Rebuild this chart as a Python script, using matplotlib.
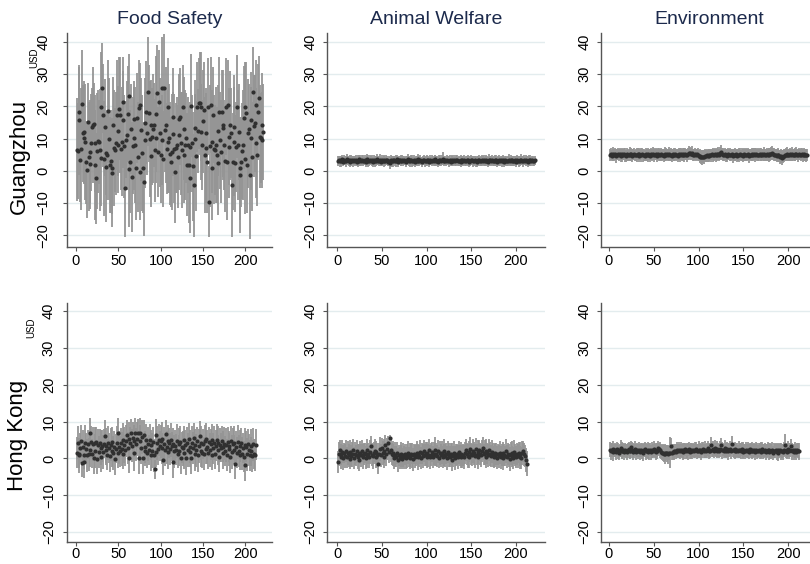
import numpy as np
import matplotlib
matplotlib.use("Agg")
import matplotlib.pyplot as plt

plt.rcParams['font.family'] = ['Liberation Sans', 'DejaVu Sans']

# ---- Guangzhou ----
gz_food = [
    6.5, 6.2, 18.1, 15.8, 3.3, 6.8, 20.6, 11.6, 10.1, 12.0, 8.8, 2.6, 0.2, 15.2, 4.4, 2.2, 5.9, 8.7, 13.7, 14.1,
    14.4, 1.8, 8.5, -2.4, 6.0, 9.2, 8.9, 6.4, 4.1, 19.9, 25.6, 17.3, 3.8, 13.5, 5.4, 1.2, 4.9, 18.5, 9.8, 1.8,
    3.0, 0.7, -0.6, 14.2, 7.1, 6.4, 8.5, 17.3, 12.3, 8.0, 19.3, 17.3, 6.9, 9.0, 15.9, 21.4, 7.6, -5.5, 9.7, 11.0,
    17.6, 0.4, 23.2, 2.8, 12.9, -1.9, 7.8, 10.1, 16.0, 8.0, 0.7, 16.3, 4.3, 19.4, -0.3, 20.4, 12.7, 5.4, 1.0, -3.4,
    9.5, 14.7, 18.2, 11.6, 24.6, 17.8, 9.9, 14.2, 4.7, 10.6, 13.1, 14.2, 6.4, 10.1, 17.5, 24.1, 5.9, 21.4, 11.8, 4.9,
    9.6, 25.6, 3.7, 25.6, 12.6, 14.2, 6.9, 9.0, 19.9, 10.1, 5.3, 2.8, 5.9, 16.8, 11.4, 6.9, -0.3, 7.2, 8.0, 4.4,
    11.1, 16.1, 16.8, 8.5, 6.4, 19.9, 13.0, 4.9, 8.0, 10.2, 1.8, 8.0, 1.8, -2.4, 7.3, 20.2, 8.5, 1.4, -4.5, 9.8,
    13.2, 4.6, 19.9, 12.4, 20.9, 20.9, 12.1, 19.9, 8.0, 15.3, 18.9, 4.9, 7.0, 11.8, 2.8, 19.9, -9.6, 7.6, 20.4, 9.0,
    0.7, 17.3, 6.6, 6.4, 8.0, 4.9, 2.3, 12.5, 18.3, 9.4, 5.9, 18.3, 13.2, 14.2, 8.0, 3.1, 19.9, 2.8, 20.4, 7.5,
    10.6, 14.1, 11.6, -4.5, 2.8, 9.0, 13.6, 2.3, 7.4, 19.9, 8.0, 12.1, 0.7, -1.3, 2.8, 6.1, 8.0, 16.4, 19.9, 3.7,
    17.8, 1.8, 11.6, 13.1, -1.3, 15.8, 10.1, 4.4, 24.6, 13.9, 14.7, 8.6, 20.4, 4.9, 18.2, 22.5, 10.6, 10.1, 9.6, 14.3,
    12.0]
gz_food_ci = [
    16, 15, 14, 17, 13, 19, 17, 15, 14, 16, 18, 13, 15, 12, 17, 14, 16, 15, 12, 18,
    13, 17, 15, 14, 18, 16, 13, 19, 15, 17, 14, 16, 18, 15, 13, 17, 14, 16, 19, 15,
    16, 14, 17, 15, 18, 13, 16, 17, 14, 15, 16, 18, 13, 17, 15, 14, 16, 15, 12, 17,
    15, 18, 13, 16, 14, 17, 15, 16, 12, 18, 16, 14, 17, 15, 15, 13, 16, 18, 14, 17,
    15, 14, 16, 13, 17, 15, 18, 14, 16, 15, 17, 13, 16, 14, 18, 15, 14, 16, 17, 15,
    14, 16, 15, 17, 13, 18, 14, 16, 15, 17, 16, 14, 18, 15, 13, 17, 16, 14, 15, 16,
    17, 14, 15, 16, 18, 13, 16, 15, 17, 14, 16, 15, 18, 17, 14, 16, 15, 17, 16, 14,
    15, 17, 14, 13, 14, 16, 15, 17, 14, 16, 15, 18, 17, 14, 16, 15, 11, 19, 15, 16,
    16, 15, 17, 14, 18, 15, 16, 14, 17, 15, 16, 13, 15, 17, 14, 16, 15, 18, 14, 16,
    15, 17, 14, 16, 15, 17, 16, 15, 14, 16, 17, 15, 16, 18, 14, 15, 17, 16, 14, 17,
    16, 15, 17, 14, 20, 15, 16, 17, 14, 16, 15, 17, 14, 16, 15, 13, 16, 14, 15, 16,
    15]

gz_animal = [
    3.1, 3.4, 2.9, 3.2, 3.0, 3.5, 2.8, 3.3, 3.1, 2.9, 3.6, 3.2, 3.0, 2.7, 3.3, 3.1, 3.4, 2.9, 3.2, 3.0,
    3.3, 2.8, 3.1, 3.5, 3.0, 3.2, 2.9, 3.4, 3.1, 3.0, 3.3, 2.7, 3.2, 3.6, 3.0, 2.9, 3.3, 3.1, 3.2, 2.8,
    3.4, 3.0, 3.2, 2.9, 3.5, 3.1, 3.0, 3.3, 2.8, 3.2, 3.1, 3.4, 2.9, 3.0, 3.3, 3.2, 2.7, 3.1, 2.4, 3.3,
    3.0, 3.2, 2.9, 3.4, 3.1, 3.0, 3.5, 2.8, 3.2, 3.3, 3.1, 2.9, 3.4, 3.0, 3.2, 3.1, 2.8, 3.3, 3.6, 3.0,
    3.2, 2.9, 3.4, 3.1, 3.0, 3.3, 2.8, 3.2, 3.1, 3.5, 2.9, 3.0, 3.3, 3.1, 2.7, 3.2, 3.4, 3.0, 2.9, 3.3,
    3.1, 3.2, 2.8, 3.4, 3.0, 3.1, 3.3, 2.9, 3.2, 3.5, 3.0, 3.1, 2.8, 3.3, 3.2, 2.9, 3.4, 3.7, 3.1, 3.0,
    3.2, 2.9, 3.3, 3.1, 3.0, 3.4, 2.8, 3.2, 3.1, 2.9, 3.3, 3.0, 3.2, 3.4, 2.9, 3.1, 3.0, 3.3, 2.8, 3.2,
    3.1, 3.4, 2.9, 3.0, 3.2, 3.3, 2.8, 3.1, 3.0, 3.4, 3.2, 2.9, 3.1, 3.3, 3.0, 2.8, 3.2, 3.1, 3.4, 2.9,
    3.0, 3.3, 3.1, 3.2, 2.9, 3.4, 3.0, 3.1, 2.8, 3.3, 3.2, 3.0, 3.4, 2.9, 3.1, 3.2, 3.0, 3.3, 2.8, 3.1,
    3.2, 2.9, 3.4, 3.0, 3.1, 3.3, 2.7, 3.2, 3.0, 2.9, 3.1, 3.4, 3.0, 3.2, 2.9, 3.3, 3.1, 3.0, 3.2, 2.8,
    3.3, 3.1, 2.9, 3.2, 3.0, 3.4, 3.1, 2.9, 3.3, 3.0, 3.2, 3.1, 2.8, 3.3, 3.0, 3.2, 2.9, 3.4, 3.1, 3.0,
    3.2]
gz_animal_ci = [
    1.5, 1.3, 1.6, 1.4, 1.7, 1.5, 1.2, 1.6, 1.4, 1.8, 1.5, 1.3, 1.6, 1.4, 1.5, 1.7, 1.3, 1.6, 1.4, 1.5,
    1.6, 1.4, 1.8, 1.3, 1.5, 1.6, 1.4, 1.5, 1.7, 1.3, 1.6, 1.5, 1.4, 1.6, 1.8, 1.3, 1.5, 1.4, 1.6, 1.5,
    1.4, 1.7, 1.5, 1.3, 1.6, 1.4, 1.5, 1.8, 1.4, 1.6, 1.3, 1.5, 1.7, 1.4, 1.6, 1.5, 1.3, 1.6, 2.0, 1.5,
    1.7, 1.4, 1.6, 1.3, 1.5, 1.8, 1.4, 1.6, 1.5, 1.3, 1.7, 1.5, 1.4, 1.6, 1.5, 1.3, 1.7, 1.4, 1.6, 1.5,
    1.4, 1.6, 1.5, 1.9, 1.4, 1.5, 1.6, 1.3, 1.5, 1.7, 1.4, 1.6, 1.5, 1.3, 1.6, 1.4, 1.5, 1.7, 1.3, 1.6,
    1.5, 1.4, 1.6, 1.5, 1.3, 1.7, 1.4, 1.5, 1.6, 1.3, 1.5, 1.4, 1.6, 1.5, 1.7, 1.4, 1.5, 2.0, 1.4, 1.6,
    1.5, 1.3, 1.6, 1.4, 1.7, 1.5, 1.3, 1.6, 1.4, 1.5, 1.6, 1.4, 1.8, 1.5, 1.3, 1.6, 1.4, 1.5, 1.7, 1.4,
    1.6, 1.5, 1.3, 1.6, 1.4, 1.7, 1.5, 1.4, 1.6, 1.5, 1.3, 1.6, 1.5, 1.4, 1.7, 1.5, 1.3, 1.6, 1.4, 1.5,
    1.5, 1.7, 1.4, 1.6, 1.3, 1.5, 1.6, 1.4, 1.5, 1.8, 1.4, 1.5, 1.6, 1.3, 1.5, 1.7, 1.4, 1.6, 1.5, 1.4,
    1.6, 1.5, 1.3, 1.7, 1.4, 1.6, 1.5, 1.3, 1.6, 1.4, 1.5, 1.7, 1.4, 1.6, 1.5, 1.3, 1.6, 1.5, 1.4, 1.7,
    1.5, 1.4, 1.6, 1.3, 1.5, 1.7, 1.4, 1.6, 1.5, 1.3, 1.6, 1.4, 1.7, 1.5, 1.4, 1.6, 1.5, 1.3, 1.6, 1.4,
    1.5]

gz_env = [
    4.9, 5.2, 4.7, 5.0, 5.3, 4.8, 5.1, 4.6, 5.0, 5.2, 4.9, 5.1, 4.7, 5.3, 4.8, 5.0, 5.2, 4.9, 4.6, 5.1,
    5.0, 4.8, 5.3, 4.9, 5.1, 4.7, 5.0, 5.2, 4.8, 5.0, 4.9, 5.2, 4.6, 5.1, 4.9, 5.0, 5.3, 4.8, 5.0, 4.7,
    5.1, 4.9, 5.2, 4.8, 5.0, 4.6, 5.1, 4.9, 5.3, 4.8, 5.0, 5.1, 4.7, 4.9, 5.2, 5.0, 4.8, 5.1, 4.9, 5.0,
    4.7, 5.2, 4.9, 5.0, 5.1, 4.8, 5.3, 4.9, 5.0, 4.7, 5.1, 5.0, 4.8, 5.2, 4.9, 5.0, 4.7, 5.1, 4.9, 5.2,
    4.8, 5.0, 5.1, 4.9, 5.3, 5.0, 4.8, 5.2, 5.4, 5.5, 5.2, 5.1, 5.5, 5.0, 4.8, 5.2, 4.9, 5.1, 5.0, 4.7,
    4.6, 4.4, 4.3, 4.2, 4.4, 4.3, 4.6, 4.5, 4.8, 4.6, 4.9, 4.7, 5.0, 4.8, 5.1, 4.9, 5.0, 5.2, 4.8, 5.1,
    4.9, 5.3, 5.0, 5.4, 5.7, 5.2, 5.0, 4.9, 5.1, 4.8, 5.0, 4.7, 5.2, 4.9, 5.0, 4.8, 5.1, 4.6, 4.9, 5.0,
    4.8, 5.1, 4.7, 5.0, 4.9, 5.2, 4.8, 5.0, 4.6, 4.9, 5.1, 4.8, 5.0, 4.9, 5.2, 4.7, 5.0, 4.9, 5.1, 4.8,
    5.0, 5.2, 4.9, 5.1, 4.8, 5.0, 4.9, 5.3, 5.0, 4.8, 5.1, 4.9, 5.2, 5.0, 4.8, 5.1, 5.0, 4.9, 5.2, 5.1,
    5.3, 5.5, 5.2, 5.0, 4.8, 4.9, 4.7, 4.9, 4.8, 4.5, 4.2, 4.6, 4.0, 4.4, 4.7, 4.9, 5.0, 4.9, 5.2, 4.8,
    5.0, 5.1, 4.9, 5.2, 4.8, 5.0, 5.1, 4.9, 5.3, 5.0, 4.8, 5.1, 4.9, 5.0, 5.2, 4.8, 4.9, 5.1, 5.0, 4.8,
    5.0]
gz_env_ci = [
    1.8, 2.0, 1.7, 1.9, 2.1, 1.8, 1.9, 2.2, 1.7, 2.0, 1.8, 1.9, 2.1, 1.7, 2.0, 1.8, 1.9, 2.2, 1.8, 2.0,
    1.9, 1.7, 2.0, 1.8, 2.1, 1.9, 1.8, 2.0, 1.7, 1.9, 2.1, 1.8, 2.0, 1.9, 1.7, 2.2, 1.8, 2.0, 1.9, 1.8,
    2.0, 1.8, 1.9, 2.1, 1.7, 2.0, 1.9, 1.8, 2.0, 2.2, 1.8, 1.9, 2.0, 1.7, 1.9, 2.1, 1.8, 2.0, 1.9, 1.8,
    1.9, 2.1, 1.8, 2.0, 1.7, 1.9, 2.2, 1.8, 2.0, 1.9, 1.8, 2.1, 1.7, 1.9, 2.0, 1.8, 2.0, 1.9, 2.1, 1.8,
    1.9, 2.0, 1.8, 2.1, 1.9, 1.7, 2.0, 1.8, 2.2, 1.9, 2.0, 1.8, 2.1, 1.9, 1.8, 2.0, 1.9, 1.7, 2.1, 1.8,
    2.0, 1.9, 2.1, 2.3, 1.9, 2.2, 2.0, 1.9, 2.1, 1.8, 2.0, 1.9, 1.7, 2.0, 1.8, 2.1, 1.9, 1.8, 2.0, 1.9,
    1.8, 2.0, 1.9, 2.1, 2.4, 1.9, 2.0, 1.8, 1.9, 2.1, 1.8, 2.0, 1.9, 1.7, 2.0, 1.9, 1.8, 2.1, 1.9, 2.0,
    1.9, 1.8, 2.0, 1.9, 2.1, 1.8, 1.7, 2.0, 1.9, 1.8, 2.1, 1.9, 2.0, 1.8, 1.9, 2.2, 1.8, 2.0, 1.9, 1.7,
    2.0, 1.8, 2.1, 1.9, 1.8, 2.0, 1.9, 1.7, 2.1, 1.9, 1.8, 2.0, 2.2, 1.9, 1.8, 2.0, 1.9, 2.1, 1.8, 2.0,
    2.1, 2.3, 1.9, 2.0, 1.8, 2.0, 1.9, 2.1, 2.0, 1.9, 2.2, 2.1, 2.3, 2.0, 1.9, 1.8, 2.0, 1.9, 2.1, 1.8,
    1.9, 2.0, 1.8, 2.1, 1.9, 1.8, 2.0, 1.9, 2.1, 1.8, 2.0, 1.9, 1.7, 2.0, 1.9, 2.1, 1.8, 2.0, 1.9, 2.0,
    1.9]

# ---- Hong Kong ----
hk_food = [
    1.5, 4.3, 1.2, 0.8, 2.9, 4.6, -1.2, 3.1, -0.9, 1.0, 4.2, 2.6, 0.9, 3.8, 1.1, 6.8, 2.4, 4.4, 1.3, 3.9,
    0.2, 4.3, 2.1, 4.4, -0.2, 3.6, 1.8, 4.1, 2.9, 0.4, 3.3, 1.7, 4.0, 6.1, 2.2, 3.5, 1.0, 4.2, 2.8, 0.6,
    3.7, 2.0, 4.5, 1.4, 3.2, -0.1, 2.6, 4.1, 1.6, 6.8, 3.0, 1.9, 4.3, 2.5, 5.1, 1.2, 3.6, 2.2, 4.8, 6.4,
    2.9, 5.3, 0.1, 4.1, 6.8, 3.4, 5.6, 1.4, 4.7, 6.9, 3.8, 5.2, 6.8, 0.1, 4.6, 6.8, 2.7, 5.9, 0.1, 6.3,
    3.1, 2.0, 4.9, 1.6, 3.8, 2.3, 5.0, 1.0, 3.6, 2.1, 4.4, 0.9, -3.0, 1.8, 6.4, 4.1, 2.5, 5.0, 3.4, 4.6,
    2.8, 5.4, -0.4, 3.9, 2.2, 6.5, 3.0, 4.8, 1.7, 4.2, 2.6, 5.1, 3.3, -0.9, 4.0, 1.9, 3.5, 2.4, 4.7, 1.3,
    3.8, 2.1, 4.4, 0.0, 3.0, 2.7, 4.9, 1.5, 3.6, 0.1, 4.3, 2.4, 5.3, 1.8, 3.2, 0.0, 4.1, 2.9, 5.5, 1.2,
    3.7, 2.2, 4.6, 0.8, 3.4, 6.0, 2.0, 4.2, 1.6, 3.9, 1.3, 4.8, 2.6, 5.2, 3.0, 1.4, 4.4, 2.3, 3.8, 0.9,
    5.0, 2.7, 4.1, 1.1, 3.5, 4.9, 2.2, 4.3, 0.4, 3.6, 2.9, 4.6, 1.5, 3.2, 4.0, 2.1, 3.7, 1.0, 4.4, 2.5,
    3.3, 0.5, 4.7, 1.8, 3.9, 2.4, 4.2, -1.4, 3.1, 1.6, 4.5, 2.0, 0.9, 3.4, 4.1, 1.3, 2.8, 0.5, 3.6, -1.8,
    3.2, 1.1, 4.0, 2.3, 0.8, 3.5, 1.9, 0.6, 3.8, 1.2, 0.9, 3.7]
hk_food_ci = [
    4.2, 4.5, 3.9, 4.7, 4.1, 4.4, 3.8, 4.6, 4.3, 4.0, 4.8, 4.2, 4.5, 3.9, 4.4, 4.1, 4.7, 4.3, 4.0, 4.6,
    4.3, 4.1, 4.6, 4.2, 3.9, 4.5, 4.4, 4.0, 4.8, 4.2, 4.3, 4.6, 3.9, 4.4, 4.1, 4.7, 4.2, 4.5, 4.0, 4.3,
    4.5, 4.2, 4.0, 4.6, 4.3, 4.4, 3.9, 4.7, 4.1, 4.2, 4.5, 4.3, 4.0, 4.6, 4.4, 4.1, 4.8, 4.2, 4.3, 4.0,
    4.4, 4.6, 4.1, 4.3, 4.0, 4.5, 4.2, 4.7, 4.3, 4.1, 4.4, 4.6, 4.0, 4.2, 4.5, 4.3, 4.1, 4.6, 4.4, 4.2,
    4.3, 4.0, 4.5, 4.2, 4.6, 4.1, 4.4, 4.3, 4.0, 4.7, 4.2, 4.5, 2.6, 4.1, 4.3, 4.6, 4.2, 4.4, 4.0, 4.5,
    4.2, 4.4, 4.1, 4.6, 4.3, 4.0, 4.5, 4.2, 4.7, 4.1, 4.3, 4.6, 4.0, 4.4, 4.2, 4.5, 4.1, 4.3, 4.6, 4.0,
    4.4, 4.2, 4.5, 4.1, 4.3, 4.7, 4.0, 4.4, 4.2, 4.5, 4.1, 4.6, 4.3, 4.0, 4.4, 4.2, 4.6, 4.3, 4.1, 4.5,
    4.2, 4.5, 4.0, 4.4, 4.6, 4.1, 4.3, 4.7, 4.2, 4.0, 4.5, 4.3, 4.1, 4.4, 4.6, 4.2, 4.0, 4.5, 4.3, 4.1,
    4.4, 4.2, 4.6, 4.0, 4.3, 4.5, 4.1, 4.4, 4.2, 4.7, 4.0, 4.3, 4.5, 4.2, 4.4, 4.1, 4.6, 4.3, 4.0, 4.5,
    4.2, 4.4, 4.1, 4.6, 4.3, 4.0, 4.5, 4.2, 4.4, 4.1, 4.6, 4.3, 4.0, 4.4, 4.2, 4.5, 4.1, 4.3, 4.6, 4.2,
    4.3, 4.5, 4.1, 4.4, 4.2, 4.6, 4.0, 4.3, 4.5, 4.1, 4.4, 4.2]

hk_animal = [
    -0.9, 1.2, 2.3, 0.4, 1.0, 1.8, 0.2, 1.5, 0.7, 2.1, 0.3, 1.4, 0.9, -0.2, 1.7, 0.6, 1.1, 2.4, 0.1, 1.3,
    0.8, 1.9, 0.5, 1.2, -0.3, 1.6, 0.9, 2.0, 0.4, 1.1, 1.5, 0.2, 2.2, 0.7, 1.3, 0.5, 1.8, 3.4, 1.0, 0.6,
    1.4, 2.1, 0.3, 1.7, 0.9, -1.4, 1.2, 2.5, 0.8, 2.7, 1.5, 0.4, 2.0, 3.6, 1.1, 2.6, 4.3, 1.7, 5.6, 2.2,
    1.3, 0.9, 1.6, 0.2, 1.0, 0.5, 1.4, -0.4, 0.8, 0.1, 1.2, 0.6, -0.1, 0.9, 0.3, 1.1, 0.0, 0.7, 1.5, 0.4,
    1.0, 0.2, 1.3, 0.8, -0.2, 1.2, 0.5, 0.9, 1.6, 0.3, 1.1, 0.7, 1.8, 0.1, 1.4, 0.6, 2.0, 0.9, 1.2, 0.4,
    1.5, 0.8, 2.2, 0.3, 1.0, 1.7, 0.5, 1.3, 2.4, 0.9, 1.1, 0.6, 1.9, 0.2, 1.4, 0.8, 1.6, 0.4, 2.1, 1.0,
    0.7, 1.3, 0.1, 1.8, 0.9, 0.5, 1.2, -0.3, 1.0, 0.6, 1.5, 0.2, 0.9, 1.1, 0.4, 1.7, 0.8, 0.3, 1.2, 0.6,
    1.0, 0.4, 1.5, 2.3, 1.1, 0.7, 1.8, 0.5, 2.6, 1.2, 0.9, 2.0, 1.4, 0.6, 2.5, 1.0, 1.7, 0.3, 2.2, 1.3,
    0.8, 1.9, 2.8, 1.1, 1.6, 0.5, 2.1, 1.4, 0.9, 2.4, 1.2, 0.7, 1.8, 1.0, 0.4, 1.5, 0.8, 1.3, 0.2, 1.1,
    0.6, 1.6, 0.3, 0.9, 1.4, 0.1, 1.0, 0.7, 2.0, 0.5, 1.2, 0.8, -0.2, 1.3, 0.6, 1.5, 0.2, 1.8, 0.9, 0.4,
    1.1, 0.7, 1.6, 0.3, 1.2, 0.0, 1.4, 1.9, 1.1, 0.6, -0.5, -1.4]
hk_animal_ci = [
    3.0, 3.2, 2.8, 3.3, 2.9, 3.1, 3.4, 2.8, 3.2, 3.0, 2.9, 3.3, 3.1, 2.8, 3.2, 3.0, 3.4, 2.9, 3.1, 3.2,
    2.9, 3.1, 3.3, 2.8, 3.0, 3.2, 3.1, 2.9, 3.4, 3.0, 2.8, 3.2, 3.1, 3.3, 2.9, 3.0, 3.2, 2.8, 3.1, 3.4,
    3.0, 3.2, 2.9, 3.1, 3.3, 2.8, 3.0, 3.2, 3.1, 2.9, 3.3, 3.0, 3.2, 2.8, 3.1, 3.0, 1.8, 2.9, 0.8, 3.3,
    3.0, 2.9, 3.2, 3.1, 3.4, 2.8, 3.0, 3.2, 2.9, 3.1, 3.3, 3.0, 2.8, 3.2, 3.1, 2.9, 3.0, 3.3, 3.1, 2.8,
    3.2, 3.0, 2.9, 3.3, 3.1, 2.8, 3.2, 3.0, 3.1, 3.4, 2.9, 3.0, 3.2, 3.1, 2.8, 3.3, 3.0, 2.9, 3.2, 3.1,
    2.9, 3.2, 3.0, 3.3, 3.1, 2.8, 3.0, 3.2, 3.4, 2.9, 3.1, 3.0, 3.2, 2.8, 3.3, 3.0, 3.1, 2.9, 3.2, 3.0,
    3.1, 2.9, 3.2, 3.0, 3.3, 2.8, 3.1, 3.0, 3.2, 2.9, 3.1, 3.3, 3.0, 2.8, 3.2, 3.1, 2.9, 3.0, 3.3, 3.1,
    3.0, 3.2, 2.9, 3.1, 3.0, 3.3, 2.8, 3.2, 3.1, 3.0, 2.9, 3.2, 3.1, 3.3, 3.0, 2.8, 3.2, 3.1, 2.9, 3.0,
    3.2, 3.0, 3.1, 2.9, 3.3, 3.0, 3.2, 2.8, 3.1, 3.0, 3.2, 2.9, 3.1, 3.3, 3.0, 2.8, 3.2, 3.0, 3.1, 2.9,
    3.1, 3.0, 3.2, 2.9, 3.1, 3.3, 3.0, 2.8, 3.2, 3.1, 2.9, 3.0, 3.2, 3.1, 2.8, 3.3, 3.0, 3.2, 2.9, 3.1,
    3.0, 3.2, 2.9, 3.1, 3.3, 3.0, 3.2, 2.8, 3.1, 3.0, 3.2, 3.5]

hk_env = [
    2.4, 1.9, 2.2, 2.6, 1.7, 2.1, 2.3, 1.8, 2.5, 2.0, 1.6, 2.2, 2.7, 1.9, 2.1, 2.4, 1.8, 2.3, 2.0, 1.7,
    2.2, 2.5, 1.9, 2.1, 3.0, 2.3, 1.8, 2.0, 2.6, 1.7, 2.2, 1.9, 2.4, 2.1, 1.8, 2.3, 2.0, 1.6, 2.2, 2.5,
    1.9, 2.1, 2.3, 1.8, 2.0, 2.4, 1.7, 2.2, 1.9, 2.6, 2.1, 1.8, 2.3, 2.0, 2.8, 2.5, 2.2, 1.8, 1.6, 1.5,
    1.3, 1.5, 1.2, 1.6, 1.4, 1.1, 1.5, 1.6, 3.4, 1.4, 1.8, 1.9, 1.7, 2.1, 1.8, 2.3, 2.0, 2.2, 1.9, 2.4,
    2.1, 1.8, 2.3, 2.0, 2.5, 1.9, 2.2, 2.0, 2.6, 1.8, 2.1, 2.4, 1.9, 2.3, 2.0, 2.2, 2.5, 1.9, 2.1, 2.4,
    2.0, 2.3, 1.8, 2.2, 2.6, 2.0, 2.4, 1.9, 2.2, 2.7, 2.1, 2.4, 2.0, 3.6, 2.3, 2.5, 2.1, 2.8, 2.2, 2.0,
    2.6, 2.3, 1.9, 2.5, 3.6, 2.2, 2.4, 2.0, 2.7, 2.3, 2.1, 2.5, 1.9, 2.3, 2.6, 2.0, 3.9, 2.4, 2.2, 2.0,
    2.5, 2.1, 2.3, 1.9, 2.4, 2.2, 2.0, 2.6, 1.8, 2.3, 2.1, 1.9, 2.4, 2.0, 2.2, 1.8, 2.5, 2.1, 1.9, 2.3,
    2.0, 2.2, 1.7, 2.4, 2.1, 1.9, 2.3, 2.0, 1.8, 2.2, 2.5, 1.9, 2.1, 2.3, 1.8, 2.0, 2.4, 1.7, 2.2, 2.0,
    1.9, 2.3, 1.6, 2.1, 2.0, 2.4, 1.8, 2.2, 1.5, 2.0, 2.3, 1.9, 2.1, 1.7, 2.4, 3.6, 1.9, 2.2, 1.8, 2.5,
    2.0, 2.3, 3.4, 1.9, 2.2, 1.7, 2.4, 2.0, 1.8, 2.3, 2.1, 1.9]
hk_env_ci = [
    2.0, 2.2, 1.9, 2.1, 2.3, 1.8, 2.0, 2.2, 1.9, 2.1, 2.0, 1.8, 2.2, 2.0, 2.3, 1.9, 2.1, 2.0, 1.8, 2.2,
    2.1, 1.9, 2.0, 2.2, 1.8, 2.1, 2.3, 1.9, 2.0, 2.2, 1.9, 2.1, 2.0, 1.8, 2.2, 2.0, 2.1, 2.3, 1.9, 2.0,
    2.2, 1.9, 2.1, 2.0, 2.3, 1.8, 2.0, 2.2, 1.9, 2.1, 2.0, 2.2, 1.9, 2.1, 2.0, 1.8, 2.2, 2.0, 2.1, 2.3,
    2.4, 2.2, 2.6, 2.1, 2.3, 2.5, 2.0, 4.2, 2.2, 1.9, 2.1, 2.0, 2.2, 1.8, 2.0, 2.1, 1.9, 2.2, 2.0, 2.1,
    1.9, 2.1, 2.0, 2.2, 1.8, 2.0, 2.1, 2.3, 1.9, 2.0, 2.2, 1.9, 2.1, 2.0, 1.8, 2.2, 2.0, 2.1, 1.9, 2.2,
    2.0, 1.9, 2.1, 2.2, 1.8, 2.0, 2.3, 1.9, 2.1, 2.0, 2.2, 1.9, 2.0, 2.1, 1.8, 2.2, 2.0, 2.1, 1.9, 2.0,
    2.2, 2.0, 1.9, 2.1, 2.0, 2.3, 1.8, 2.0, 2.2, 1.9, 2.1, 2.0, 2.2, 1.9, 2.0, 2.1, 2.3, 1.9, 2.0, 2.2,
    1.9, 2.1, 2.0, 1.8, 2.2, 2.0, 2.1, 1.9, 2.0, 2.2, 1.8, 2.1, 2.0, 1.9, 2.2, 2.0, 1.8, 2.1, 2.0, 2.2,
    2.0, 1.9, 2.1, 2.0, 2.2, 1.8, 2.0, 2.1, 1.9, 2.2, 2.0, 2.1, 1.9, 2.0, 2.2, 1.8, 2.1, 2.0, 1.9, 2.1,
    2.0, 2.2, 1.9, 2.1, 2.0, 1.8, 2.2, 2.0, 2.1, 1.9, 2.0, 2.2, 1.9, 2.1, 2.0, 3.0, 1.9, 2.1, 2.0, 2.2,
    2.1, 1.9, 2.0, 2.2, 1.8, 2.1, 2.0, 1.9, 2.2, 2.0, 2.1, 2.3]

col_titles = ["Food Safety", "Animal Welfare", "Environment"]
row_titles = ["Guangzhou", "Hong Kong"]
panels = [[(gz_food, gz_food_ci), (gz_animal, gz_animal_ci), (gz_env, gz_env_ci)],
          [(hk_food, hk_food_ci), (hk_animal, hk_animal_ci), (hk_env, hk_env_ci)]]
yticks = [-20, -10, 0, 10, 20, 30, 40]
xticks = [0, 50, 100, 150, 200]

W, H = 810, 564
fig = plt.figure(figsize=(W / 100, H / 100), dpi=100)

# pixel layout: (left, width) per column, (top, bottom) per row
cols = [(67, 205), (327, 218), (601, 216)]
rows = [(33, 247), (303, 542)]
xlims = [(-10.6, 231.3), (-11.2, 232.4), (-8.9, 232.0)]
ylims = [(-23.7, 42.8), (-22.7, 42.2)]
title_col = '#1c2a4c'

for r in range(2):
    top, bot = rows[r]
    for c in range(3):
        left, width = cols[c]
        ax = fig.add_axes([left / W, 1 - bot / H, width / W, (bot - top) / H])
        vals, ci = panels[r][c]
        vals = np.array(vals)
        ci = np.array(ci)
        x = np.arange(1, len(vals) + 1)
        ax.vlines(x, vals - ci, vals + ci, color='#959595', lw=1.3, zorder=2)
        ax.plot(x, vals, 'o', ms=3.0, color='#303030', mec='none', zorder=3)
        ax.set_xlim(*xlims[c])
        ax.set_ylim(*ylims[r])
        ax.set_yticks(yticks)
        ax.set_xticks(xticks)
        ax.grid(axis='y', color='#e3ecee', lw=1.0, zorder=0)
        ax.set_axisbelow(True)
        for s in ['top', 'right']:
            ax.spines[s].set_visible(False)
        for s in ['left', 'bottom']:
            ax.spines[s].set_color('#555555')
            ax.spines[s].set_linewidth(1.0)
        ypad = 4
        if c == 0:
            ypad = 9 if r == 0 else 5
        ax.tick_params(axis='y', length=3, color='#555555', labelsize=10.5, pad=ypad)
        ax.tick_params(axis='x', length=3, color='#555555', labelsize=10.5, pad=2 if r == 0 else 0.5)
        plt.setp(ax.get_yticklabels(), rotation=90, va='center')
        if r == 0:
            fig.text((left + width / 2) / W, 1 - 20 / H, col_titles[c],
                     ha='center', va='center', fontsize=14, color=title_col)

fig.text(19 / W, 1 - 156 / H, row_titles[0], rotation=90, ha='center', va='center', fontsize=16)
fig.text(18 / W, 1 - 435 / H, row_titles[1], rotation=90, ha='center', va='center', fontsize=16)
fig.text(34 / W, 1 - 58 / H, "USD", rotation=90, ha='center', va='center', fontsize=7)
fig.text(31 / W, 1 - 328 / H, "USD", rotation=90, ha='center', va='center', fontsize=7)

fig.savefig("out.png", dpi=100)
